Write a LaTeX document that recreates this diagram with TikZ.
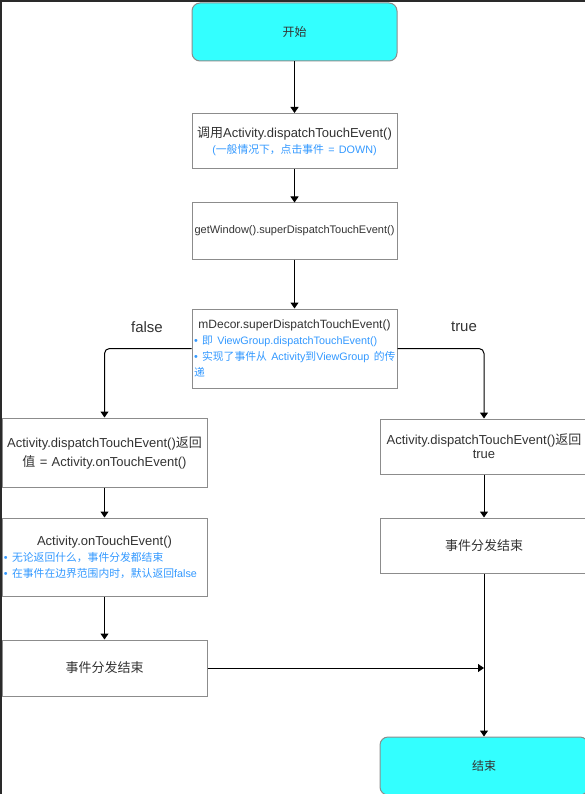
\documentclass[tikz,border=0pt]{standalone}
\usepackage{fontspec}
\setmainfont{Liberation Sans}
\newfontfamily\cjk{Noto Sans CJK SC}
\usetikzlibrary{arrows.meta}

\definecolor{startcyan}{RGB}{51,255,255}
\definecolor{bordergray}{RGB}{140,140,140}
\definecolor{textgray}{RGB}{51,51,51}
\definecolor{noteblue}{RGB}{51,153,255}
\definecolor{framegray}{RGB}{42,42,42}

\newcommand{\zh}[1]{{\cjk #1}}
\newcommand{\bluetxt}[1]{\mbox{\color{noteblue}\fontsize{10.8}{16}\selectfont #1}}

\begin{document}
\begin{tikzpicture}[x=1pt,y=-1pt,
	box/.style={draw=bordergray, line width=1pt, fill=white, minimum width=205pt, minimum height=55pt,
		text width=201pt, align=center, inner sep=0pt, text=textgray, font=\fontsize{13}{16}\selectfont},
	term/.style={box, rounded corners=8pt, fill=startcyan, minimum height=58pt, font=\fontsize{12}{16}\selectfont},
	arr/.style={draw=black, line width=1pt, -{Triangle[width=8pt,length=6pt]}},
	lbl/.style={text=textgray, font=\fontsize{15}{18}\selectfont}]
	\useasboundingbox (0,0) rectangle (585,794);
	\fill[white] (0,0) rectangle (585,794);
	\fill[framegray] (0,0) rectangle (585,2);
	\fill[framegray] (0,0) rectangle (1.7,794);
	% middle column
	\node[term] (start) at (294.5,32) {\zh{开始}};
	\node[box] (call) at (294.5,141) {\zh{调用}Activity.dispatchTouchEvent()\\
		\bluetxt{(\zh{一般情况下，点击事件} = DOWN)}};
	\node[box, minimum height=56pt] (window) at (294.5,231) {{\fontsize{11}{16}\selectfont getWindow().superDispatchTouchEvent()}};
	\node[box, minimum height=79pt, align=left] (decor) at (294.5,348.5) {\makebox[201pt]{\fontsize{12}{16}\selectfont mDecor.superDispatchTouchEvent()}\\
		\bluetxt{• \zh{即} ViewGroup.dispatchTouchEvent()}\\
		\bluetxt{• \zh{实现了事件从} Activity\zh{到}ViewGroup \zh{的传}}\\
		\bluetxt{\zh{递}}};
	\node[lbl] (lfalse) at (147,327) {false};
	\node[lbl] (ltrue) at (464,327) {true};
	% false branch
	\node[box, minimum height=69pt] (rfalse) at (104.5,452.5) {Activity.dispatchTouchEvent()\zh{返回}\\[3pt]
		\zh{值} = Activity.onTouchEvent()};
	\node[box, minimum height=78pt, align=left] (touch) at (104.5,557) {\makebox[201pt]{Activity.onTouchEvent()}\\
		\bluetxt{• \zh{无论返回什么，事件分发都结束}}\\
		\bluetxt{• \zh{在事件在边界范围内时，默认返回}false}};
	\node[box, minimum height=56pt] (endl) at (104.5,668) {\zh{事件分发结束}};
	% true branch
	\node[box, minimum width=208pt] (rtrue) at (484,446.5) {Activity.dispatchTouchEvent()\zh{返回}\\[-2pt]
		true};
	\node[box, minimum width=208pt] (endr) at (484,545.5) {\zh{事件分发结束}};
	\node[term, minimum width=208pt] (finish) at (484,766) {\zh{结束}};
	% connectors
	\draw[arr] (start) -- (call);
	\draw[arr] (call) -- (window);
	\draw[arr] (window) -- (decor);
	\draw[arr, rounded corners=5pt] (decor.west) -| (rfalse.north);
	\draw[arr, rounded corners=5pt] (decor.east) -| (rtrue.north);
	\draw[arr] (rfalse) -- (touch);
	\draw[arr] (touch) -- (endl);
	\draw[arr] (rtrue) -- (endr);
	\draw[arr] (endr) -- (finish);
	\coordinate (join) at (endl.east -| finish.north);
	\draw[arr] (endl.east) -- (join);
\end{tikzpicture}
\end{document}
